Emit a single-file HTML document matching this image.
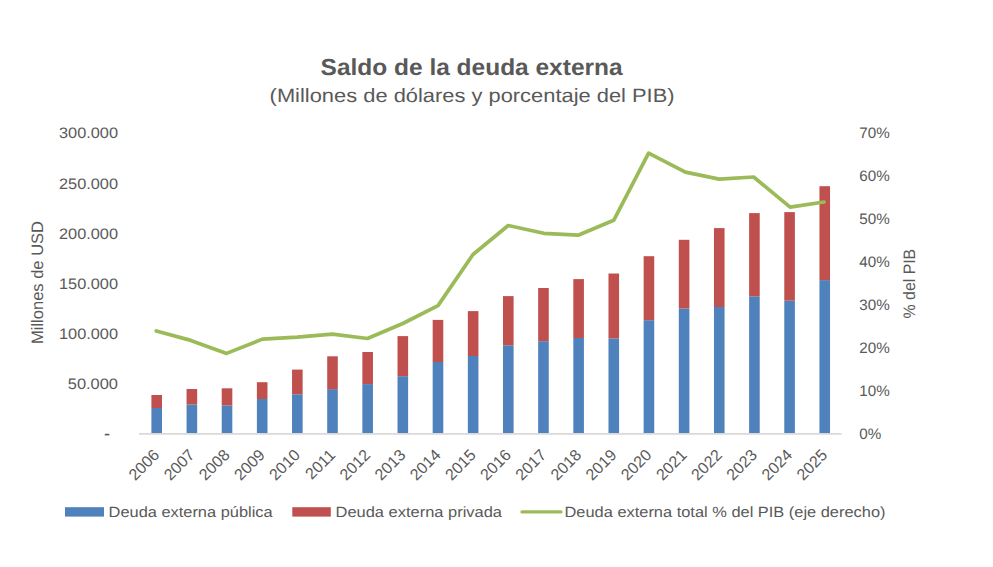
<!DOCTYPE html>
<html><head><meta charset="utf-8"><style>
html,body{margin:0;padding:0;background:#fff;}
body{width:993px;height:567px;overflow:hidden;}
svg{display:block;font-family:"Liberation Sans", sans-serif;text-rendering:geometricPrecision;}
</style></head><body>
<svg width="993" height="567" viewBox="0 0 993 567">
<rect width="993" height="567" fill="#fff"/>
<rect x="151.40" y="408.00" width="10.6" height="25.50" fill="#4F81BD"/>
<rect x="151.40" y="395.00" width="10.6" height="13.00" fill="#C0504D"/>
<rect x="186.56" y="404.50" width="10.6" height="29.00" fill="#4F81BD"/>
<rect x="186.56" y="389.00" width="10.6" height="15.50" fill="#C0504D"/>
<rect x="221.72" y="405.40" width="10.6" height="28.10" fill="#4F81BD"/>
<rect x="221.72" y="388.30" width="10.6" height="17.10" fill="#C0504D"/>
<rect x="256.88" y="399.00" width="10.6" height="34.50" fill="#4F81BD"/>
<rect x="256.88" y="382.20" width="10.6" height="16.80" fill="#C0504D"/>
<rect x="292.04" y="394.30" width="10.6" height="39.20" fill="#4F81BD"/>
<rect x="292.04" y="369.60" width="10.6" height="24.70" fill="#C0504D"/>
<rect x="327.20" y="389.10" width="10.6" height="44.40" fill="#4F81BD"/>
<rect x="327.20" y="356.30" width="10.6" height="32.80" fill="#C0504D"/>
<rect x="362.36" y="384.10" width="10.6" height="49.40" fill="#4F81BD"/>
<rect x="362.36" y="352.00" width="10.6" height="32.10" fill="#C0504D"/>
<rect x="397.52" y="376.20" width="10.6" height="57.30" fill="#4F81BD"/>
<rect x="397.52" y="336.10" width="10.6" height="40.10" fill="#C0504D"/>
<rect x="432.68" y="362.00" width="10.6" height="71.50" fill="#4F81BD"/>
<rect x="432.68" y="319.90" width="10.6" height="42.10" fill="#C0504D"/>
<rect x="467.84" y="356.00" width="10.6" height="77.50" fill="#4F81BD"/>
<rect x="467.84" y="311.10" width="10.6" height="44.90" fill="#C0504D"/>
<rect x="503.00" y="345.30" width="10.6" height="88.20" fill="#4F81BD"/>
<rect x="503.00" y="296.10" width="10.6" height="49.20" fill="#C0504D"/>
<rect x="538.16" y="341.20" width="10.6" height="92.30" fill="#4F81BD"/>
<rect x="538.16" y="288.00" width="10.6" height="53.20" fill="#C0504D"/>
<rect x="573.32" y="338.00" width="10.6" height="95.50" fill="#4F81BD"/>
<rect x="573.32" y="279.10" width="10.6" height="58.90" fill="#C0504D"/>
<rect x="608.48" y="338.40" width="10.6" height="95.10" fill="#4F81BD"/>
<rect x="608.48" y="273.50" width="10.6" height="64.90" fill="#C0504D"/>
<rect x="643.64" y="320.20" width="10.6" height="113.30" fill="#4F81BD"/>
<rect x="643.64" y="256.20" width="10.6" height="64.00" fill="#C0504D"/>
<rect x="678.80" y="308.50" width="10.6" height="125.00" fill="#4F81BD"/>
<rect x="678.80" y="239.80" width="10.6" height="68.70" fill="#C0504D"/>
<rect x="713.96" y="307.00" width="10.6" height="126.50" fill="#4F81BD"/>
<rect x="713.96" y="228.10" width="10.6" height="78.90" fill="#C0504D"/>
<rect x="749.12" y="296.30" width="10.6" height="137.20" fill="#4F81BD"/>
<rect x="749.12" y="213.10" width="10.6" height="83.20" fill="#C0504D"/>
<rect x="784.28" y="300.70" width="10.6" height="132.80" fill="#4F81BD"/>
<rect x="784.28" y="212.10" width="10.6" height="88.60" fill="#C0504D"/>
<rect x="819.44" y="280.10" width="10.6" height="153.40" fill="#4F81BD"/>
<rect x="819.44" y="186.20" width="10.6" height="93.90" fill="#C0504D"/>
<line x1="139" y1="433.9" x2="841.5" y2="433.9" stroke="#D9D9D9" stroke-width="1.6"/>
<polyline points="156.3,331.0 190.8,340.4 226.6,353.4 262.4,339.1 297.3,337.2 332.3,334.2 367.5,338.5 402.8,323.5 438.0,305.6 473.0,254.5 508.2,225.5 543.7,233.3 578.1,235.2 613.7,220.3 648.6,153.1 685.4,172.1 719.2,179.1 753.7,177.0 790.1,207.2 824.1,202.0" fill="none" stroke="#9BBB59" stroke-width="3.7" stroke-linejoin="round" stroke-linecap="round"/>
<text x="320.6" y="74.8" font-size="23.2" text-anchor="start" font-weight="bold" fill="#595959" textLength="302" lengthAdjust="spacingAndGlyphs" >Saldo de la deuda externa</text>
<text x="269.6" y="102.2" font-size="19.3" text-anchor="start" font-weight="normal" fill="#595959" textLength="405" lengthAdjust="spacingAndGlyphs" >(Millones de dólares y porcentaje del PIB)</text>
<rect x="104.8" y="433.8" width="4.6" height="1.6" fill="#595959"/>
<text x="118" y="389.26" font-size="15.2" text-anchor="end" font-weight="normal" fill="#595959" textLength="50.2" lengthAdjust="spacingAndGlyphs" >50.000</text>
<text x="118" y="339.08" font-size="15.2" text-anchor="end" font-weight="normal" fill="#595959" textLength="59" lengthAdjust="spacingAndGlyphs" >100.000</text>
<text x="118" y="288.9" font-size="15.2" text-anchor="end" font-weight="normal" fill="#595959" textLength="59" lengthAdjust="spacingAndGlyphs" >150.000</text>
<text x="118" y="238.72" font-size="15.2" text-anchor="end" font-weight="normal" fill="#595959" textLength="59" lengthAdjust="spacingAndGlyphs" >200.000</text>
<text x="118" y="188.54" font-size="15.2" text-anchor="end" font-weight="normal" fill="#595959" textLength="59" lengthAdjust="spacingAndGlyphs" >250.000</text>
<text x="118" y="138.36" font-size="15.2" text-anchor="end" font-weight="normal" fill="#595959" textLength="59" lengthAdjust="spacingAndGlyphs" >300.000</text>
<text x="859.3" y="438.55" font-size="15.2" text-anchor="start" font-weight="normal" fill="#595959" >0%</text>
<text x="859.3" y="395.65" font-size="15.2" text-anchor="start" font-weight="normal" fill="#595959" >10%</text>
<text x="859.3" y="352.75" font-size="15.2" text-anchor="start" font-weight="normal" fill="#595959" >20%</text>
<text x="859.3" y="309.85" font-size="15.2" text-anchor="start" font-weight="normal" fill="#595959" >30%</text>
<text x="859.3" y="266.95" font-size="15.2" text-anchor="start" font-weight="normal" fill="#595959" >40%</text>
<text x="859.3" y="224.05" font-size="15.2" text-anchor="start" font-weight="normal" fill="#595959" >50%</text>
<text x="859.3" y="181.15" font-size="15.2" text-anchor="start" font-weight="normal" fill="#595959" >60%</text>
<text x="859.3" y="138.25" font-size="15.2" text-anchor="start" font-weight="normal" fill="#595959" >70%</text>
<text x="0" y="0" font-size="16.6" fill="#595959" transform="translate(42.8,344) rotate(-90)" textLength="123" lengthAdjust="spacingAndGlyphs">Millones de USD</text>
<text x="0" y="0" font-size="16.6" fill="#595959" transform="translate(915,318.4) rotate(-90)" textLength="69.6" lengthAdjust="spacingAndGlyphs">% del PIB</text>
<text x="0" y="0" font-size="16" fill="#595959" text-anchor="end" transform="translate(160.4,456) rotate(-45)">2006</text>
<text x="0" y="0" font-size="16" fill="#595959" text-anchor="end" transform="translate(195.6,456) rotate(-45)">2007</text>
<text x="0" y="0" font-size="16" fill="#595959" text-anchor="end" transform="translate(230.7,456) rotate(-45)">2008</text>
<text x="0" y="0" font-size="16" fill="#595959" text-anchor="end" transform="translate(265.9,456) rotate(-45)">2009</text>
<text x="0" y="0" font-size="16" fill="#595959" text-anchor="end" transform="translate(301.0,456) rotate(-45)">2010</text>
<text x="0" y="0" font-size="16" fill="#595959" text-anchor="end" transform="translate(336.2,456) rotate(-45)">2011</text>
<text x="0" y="0" font-size="16" fill="#595959" text-anchor="end" transform="translate(371.4,456) rotate(-45)">2012</text>
<text x="0" y="0" font-size="16" fill="#595959" text-anchor="end" transform="translate(406.5,456) rotate(-45)">2013</text>
<text x="0" y="0" font-size="16" fill="#595959" text-anchor="end" transform="translate(441.7,456) rotate(-45)">2014</text>
<text x="0" y="0" font-size="16" fill="#595959" text-anchor="end" transform="translate(476.8,456) rotate(-45)">2015</text>
<text x="0" y="0" font-size="16" fill="#595959" text-anchor="end" transform="translate(512.0,456) rotate(-45)">2016</text>
<text x="0" y="0" font-size="16" fill="#595959" text-anchor="end" transform="translate(547.2,456) rotate(-45)">2017</text>
<text x="0" y="0" font-size="16" fill="#595959" text-anchor="end" transform="translate(582.3,456) rotate(-45)">2018</text>
<text x="0" y="0" font-size="16" fill="#595959" text-anchor="end" transform="translate(617.5,456) rotate(-45)">2019</text>
<text x="0" y="0" font-size="16" fill="#595959" text-anchor="end" transform="translate(652.6,456) rotate(-45)">2020</text>
<text x="0" y="0" font-size="16" fill="#595959" text-anchor="end" transform="translate(687.8,456) rotate(-45)">2021</text>
<text x="0" y="0" font-size="16" fill="#595959" text-anchor="end" transform="translate(723.0,456) rotate(-45)">2022</text>
<text x="0" y="0" font-size="16" fill="#595959" text-anchor="end" transform="translate(758.1,456) rotate(-45)">2023</text>
<text x="0" y="0" font-size="16" fill="#595959" text-anchor="end" transform="translate(793.3,456) rotate(-45)">2024</text>
<text x="0" y="0" font-size="16" fill="#595959" text-anchor="end" transform="translate(828.4,456) rotate(-45)">2025</text>
<rect x="65" y="507.2" width="39" height="9.4" fill="#4F81BD"/>
<text x="108.6" y="516.7" font-size="14.9" text-anchor="start" font-weight="normal" fill="#595959" textLength="164" lengthAdjust="spacingAndGlyphs" >Deuda externa pública</text>
<rect x="292.3" y="507.2" width="38.5" height="9.4" fill="#C0504D"/>
<text x="335.5" y="516.7" font-size="14.9" text-anchor="start" font-weight="normal" fill="#595959" textLength="166.5" lengthAdjust="spacingAndGlyphs" >Deuda externa privada</text>
<line x1="522" y1="511.9" x2="561" y2="511.9" stroke="#9BBB59" stroke-width="3.2" stroke-linecap="round"/>
<text x="564.5" y="516.7" font-size="14.9" text-anchor="start" font-weight="normal" fill="#595959" textLength="321" lengthAdjust="spacingAndGlyphs" >Deuda externa total % del PIB (eje derecho)</text>
</svg>
</body></html>
